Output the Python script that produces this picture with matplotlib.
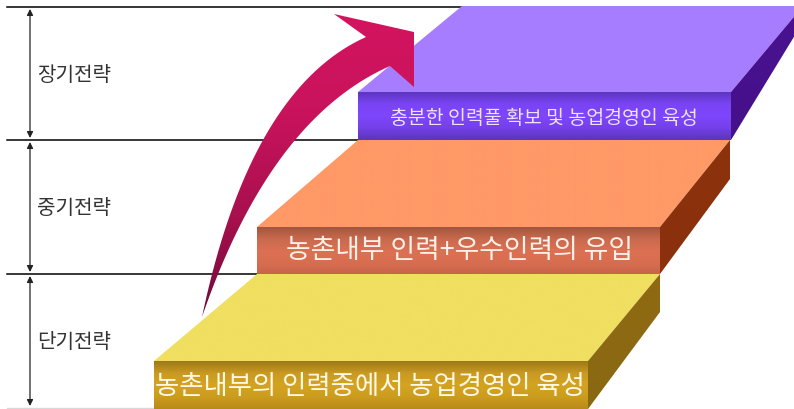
import numpy as np
import matplotlib.pyplot as plt
from matplotlib.patches import Polygon
from matplotlib.colors import LinearSegmentedColormap

plt.rcParams['font.family'] = ['Noto Sans CJK KR', 'DejaVu Sans']

# labels of the three time horizons (top to bottom) and the step texts
levels = ['장기전략', '중기전략', '단기전략']
steps = ['충분한 인력풀 확보 및 농업경영인 육성',
         '농촌내부 인력+우수인력의 유입',
         '농촌내부의 인력중에서 농업경영인 육성']

W, H = 794, 410
fig = plt.figure(figsize=(W / 100, H / 100), dpi=100)
ax = fig.add_axes([0, 0, 1, 1])


def grad_fill(verts, colors, z):
    poly = Polygon(verts, closed=True, facecolor='none', edgecolor='none', zorder=z)
    ax.add_patch(poly)
    xs = [v[0] for v in verts]
    ys = [v[1] for v in verts]
    cmap = LinearSegmentedColormap.from_list('g', colors)
    arr = np.linspace(0, 1, 256).reshape(-1, 1)
    im = ax.imshow(arr, cmap=cmap, extent=(min(xs), max(xs), max(ys), min(ys)),
                   aspect='auto', interpolation='bilinear', zorder=z)
    im.set_clip_path(poly)


# band boundaries
bands = [8, 141, 275, 409]
line_ends = [462, 358, 257]
for y, xe in zip(bands[:3], line_ends):
    ax.plot([7, xe], [y, y], color='black', lw=1.1, zorder=1)
ax.plot([7, 153], [409, 409], color='#d8d8d8', lw=1, zorder=1)

for i, lab in enumerate(levels):
    y0, y1 = bands[i] + 2, bands[i + 1] - 2
    ax.annotate('', xy=(30, y0), xytext=(30, y1),
                arrowprops=dict(arrowstyle='<|-|>', color='#222', lw=0.9,
                                mutation_scale=9, shrinkA=0, shrinkB=0))
    ax.text(37, (bands[i] + bands[i + 1]) / 2 + 1, lab, fontsize=14.5,
            color='#333333', ha='left', va='center')

# ---- blocks (purple back, orange middle, yellow front)
# purple
grad_fill([(358, 93), (462, 7), (803, 7), (731, 93)], ['#a77dff', '#a77dff'], 2)
grad_fill([(731, 93), (803, 7), (803, 23), (731, 141)], ['#4a1290', '#45108a'], 2)
grad_fill([(358, 93), (731, 93), (731, 141), (358, 141)],
          ['#5c36c0', '#7a44f4', '#7f46fb', '#7440ea', '#5a36b8'], 2)
# orange
grad_fill([(257, 228), (358, 141), (730, 141), (660, 228)], ['#ff9966', '#ff9966'], 2)
grad_fill([(660, 228), (730, 141), (730, 180), (660, 275)], ['#8c320c', '#8a300c'], 2)
grad_fill([(257, 228), (660, 228), (660, 275), (257, 275)],
          ['#a2553e', '#c86a4e', '#dc7052', '#d86e50', '#c8644a'], 2)
# yellow
grad_fill([(154, 362), (257, 275), (660, 275), (588, 362)], ['#f0df60', '#f0df60'], 2)
grad_fill([(588, 362), (660, 275), (660, 313), (588, 410)], ['#8f6a12', '#8a6812'], 2)
grad_fill([(154, 362), (588, 362), (588, 410), (154, 410)],
          ['#9e7818', '#c89a22', '#d4a420', '#cc9c1e', '#b88a18'], 2)

ax.text(544, 118, steps[0], fontsize=14.0, color='#ece4ff', ha='center', va='center', zorder=5)
ax.text(459, 251, steps[1], fontsize=19.3, color='#fff1ea', ha='center', va='center', zorder=5)
ax.text(370, 387, steps[2], fontsize=19.0, color='#fff8e6', ha='center', va='center', zorder=5)


# ---- curved arrow
def bez(p0, p1, p2, n=40):
    t = np.linspace(0, 1, n)[:, None]
    return (1 - t) ** 2 * np.array(p0) + 2 * (1 - t) * t * np.array(p1) + t ** 2 * np.array(p2)


outer = bez((202, 318), (250, 90), (366, 38))
inner = bez((390, 67), (270, 120), (202, 318))
head = np.array([(334, 15), (414, 33), (414, 88)])
arrow = np.vstack([outer, head, inner])
grad_fill([tuple(p) for p in arrow], ['#d4145f', '#c8135c', '#a8104e', '#6e0a3a'], 6)

ax.set_xlim(0, W)
ax.set_ylim(H, 0)
ax.axis('off')
fig.savefig('out.png', dpi=100, facecolor='white')
